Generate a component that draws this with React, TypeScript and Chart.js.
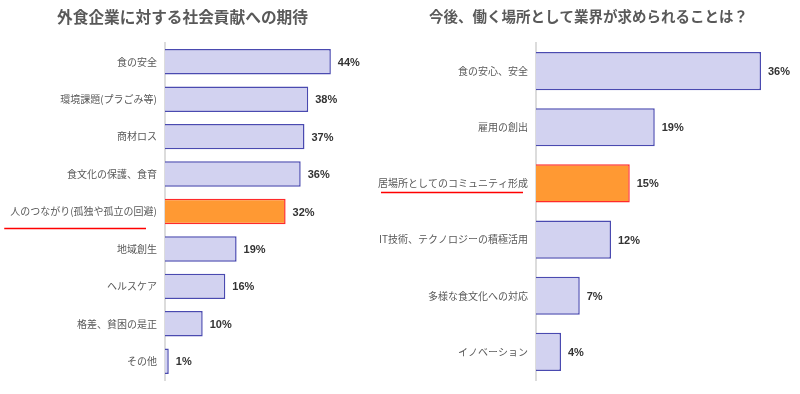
import React, { useEffect, useRef } from "react";
import { Chart, registerables } from "chart.js";

Chart.register(...registerables);

const leftTitle = "外食企業に対する社会貢献への期待";
const leftLabels = [
  "食の安全",
  "環境課題(プラごみ等)",
  "商材ロス",
  "食文化の保護、食育",
  "人のつながり(孤独や孤立の回避)",
  "地域創生",
  "ヘルスケア",
  "格差、貧困の是正",
  "その他",
];
const leftValues = [44, 38, 37, 36, 32, 19, 16, 10, 1];
const leftHighlight = 4;

const rightTitle = "今後、働く場所として業界が求められることは？";
const rightLabels = [
  "食の安心、安全",
  "雇用の創出",
  "居場所としてのコミュニティ形成",
  "IT技術、テクノロジーの積極活用",
  "多様な食文化への対応",
  "イノベーション",
];
const rightValues = [36, 19, 15, 12, 7, 4];
const rightHighlight = 2;

const FONT = '"Noto Sans CJK JP", "Noto Sans", sans-serif';
const NUM_FONT = '"Liberation Sans Narrow", "Liberation Sans", Arial, sans-serif';

const valueLabelPlugin = {
  id: "valueLabels",
  afterDatasetsDraw(chart: any) {
    const ctx = chart.ctx;
    const meta = chart.getDatasetMeta(0);
    const data = chart.data.datasets[0].data;
    ctx.save();
    ctx.font = `bold 11px ${NUM_FONT}`;
    ctx.fillStyle = "#333333";
    ctx.textAlign = "left";
    ctx.textBaseline = "middle";
    meta.data.forEach((bar: any, i: number) => {
      ctx.fillText(`${data[i]}%`, bar.x + 7, bar.y + 1);
    });
    ctx.restore();
  },
};

const underlinePlugin = {
  id: "underline",
  afterDraw(chart: any, _args: any, opts: any) {
    if (!opts || opts.index == null) return;
    const ctx = chart.ctx;
    const yScale = chart.scales.y;
    const label = chart.data.labels[opts.index];
    ctx.save();
    ctx.font = `10px ${FONT}`;
    const w = ctx.measureText(label).width;
    const right = yScale.right - opts.tickPad;
    const y = yScale.getPixelForValue(opts.index) + opts.dy;
    ctx.strokeStyle = "#ff0000";
    ctx.lineWidth = 1.5;
    ctx.beginPath();
    ctx.moveTo(right - w + opts.dx0, y);
    ctx.lineTo(right + opts.dx1, y);
    ctx.stroke();
    ctx.restore();
  },
};

type Props = {
  title: string;
  labels: string[];
  values: number[];
  highlight: number;
  width: number;
  left: number;
  padLeft: number;
  axisWidth: number;
  max: number;
  padRight: number;
  titleSize: number;
  underline: { dx0: number; dx1: number; dy: number };
};

function BarChart(p: Props) {
  const ref = useRef<HTMLCanvasElement | null>(null);
  useEffect(() => {
    if (!ref.current) return;
    const bg = p.values.map((_, i) => (i === p.highlight ? "#ff9933" : "#d2d2f0"));
    const bd = p.values.map((_, i) => (i === p.highlight ? "#ff2a2a" : "#4a4ab0"));
    const chart = new Chart(ref.current, {
      type: "bar",
      data: {
        labels: p.labels,
        datasets: [
          {
            data: p.values,
            backgroundColor: bg,
            borderColor: bd,
            borderWidth: 1.5,
            categoryPercentage: 1,
            barPercentage: 0.68,
          },
        ],
      },
      options: {
        indexAxis: "y",
        animation: false,
        responsive: false,
        maintainAspectRatio: false,
        layout: { padding: { top: 0, left: p.padLeft, right: p.padRight, bottom: 12 } },
        scales: {
          x: { display: false, min: 0, max: p.max },
          y: {
            grid: { display: false, drawTicks: false },
            border: { display: true, color: "#dcdcdc", width: 2 },
            ticks: {
              padding: 8,
              color: "#595959",
              font: { family: FONT, size: 10 },
            },
            afterFit: (scale: any) => {
              scale.width = p.axisWidth;
            },
          },
        },
        plugins: {
          legend: { display: false },
          tooltip: { enabled: false },
          title: {
            display: true,
            text: p.title,
            color: "#595959",
            font: { family: FONT, size: p.titleSize, weight: "bold", lineHeight: 1.2 },
            padding: { top: 8, bottom: 43 - 8 - p.titleSize * 1.2 },
          },
          underline: {
            index: p.highlight,
            tickPad: 8,
            dx0: p.underline.dx0,
            dx1: p.underline.dx1,
            dy: p.underline.dy,
          },
        } as any,
      },
      plugins: [valueLabelPlugin, underlinePlugin],
    });
    return () => chart.destroy();
  }, []);
  return (
    <canvas
      ref={ref}
      width={p.width}
      height={394}
      style={{ position: "absolute", left: p.left, top: 0, width: p.width, height: 394 }}
    />
  );
}

export default function App() {
  return (
    <div
      style={{
        position: "fixed",
        left: 0,
        top: 0,
        width: 800,
        height: 394,
        overflow: "hidden",
        background: "#ffffff",
      }}
    >
      <BarChart
        title={leftTitle}
        labels={leftLabels}
        values={leftValues}
        highlight={leftHighlight}
        width={376}
        left={0}
        padLeft={4}
        axisWidth={161}
        max={52}
        padRight={15}
        titleSize={15.7}
        underline={{ dx0: -6, dx1: -11, dy: 17 }}
      />
      <BarChart
        title={rightTitle}
        labels={rightLabels}
        values={rightValues}
        highlight={rightHighlight}
        width={431}
        left={370}
        padLeft={6}
        axisWidth={160}
        max={42.4}
        padRight={0}
        titleSize={14.5}
        underline={{ dx0: 3, dx1: -5, dy: 9 }}
      />
    </div>
  );
}
